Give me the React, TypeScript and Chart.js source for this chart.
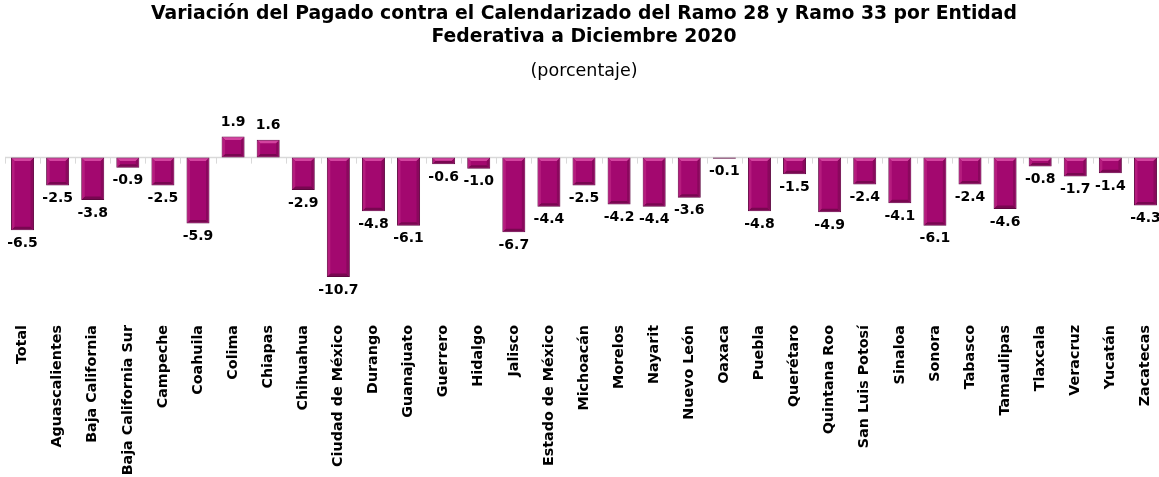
import React, { useEffect, useRef } from "react";
import { Chart, registerables } from "chart.js";

Chart.register(...registerables);

const categories = [
  "Total", "Aguascalientes", "Baja California", "Baja California Sur", "Campeche", "Coahuila",
  "Colima", "Chiapas", "Chihuahua", "Ciudad de México", "Durango", "Guanajuato", "Guerrero",
  "Hidalgo", "Jalisco", "Estado de México", "Michoacán", "Morelos", "Nayarit", "Nuevo León",
  "Oaxaca", "Puebla", "Querétaro", "Quintana Roo", "San Luis Potosí", "Sinaloa", "Sonora",
  "Tabasco", "Tamaulipas", "Tlaxcala", "Veracruz", "Yucatán", "Zacatecas",
];

const values = [
  -6.5, -2.5, -3.8, -0.9, -2.5, -5.9, 1.9, 1.6, -2.9, -10.7, -4.8, -6.1, -0.6, -1.0, -6.7, -4.4,
  -2.5, -4.2, -4.4, -3.6, -0.1, -4.8, -1.5, -4.9, -2.4, -4.1, -6.1, -2.4, -4.6, -0.8, -1.7, -1.4, -4.3,
];

const titleLines = [
  "Variación del Pagado contra el Calendarizado del Ramo 28 y Ramo 33 por Entidad",
  "Federativa a Diciembre 2020",
];
const subtitleText = "(porcentaje)";

const FONT = "'DejaVu Sans', sans-serif";

const axisPlugin = {
  id: "zeroAxis",
  beforeDatasetsDraw(chart: any) {
    const { ctx, chartArea, scales } = chart;
    const xs = scales.x;
    const ys = scales.y;
    const y0 = ys.getPixelForValue(0);
    const cw = xs.getPixelForValue(1) - xs.getPixelForValue(0);
    const start = xs.getPixelForValue(0) - cw / 2;
    ctx.save();
    ctx.strokeStyle = "#D9D9D9";
    ctx.lineWidth = 1.5;
    ctx.beginPath();
    ctx.moveTo(chartArea.left, y0);
    ctx.lineTo(chartArea.right, y0);
    ctx.stroke();
    ctx.lineWidth = 1;
    for (let i = 0; i <= categories.length; i++) {
      const x = Math.round(start + i * cw) + 0.5;
      ctx.beginPath();
      ctx.moveTo(x, y0);
      ctx.lineTo(x, y0 + 6);
      ctx.stroke();
    }
    ctx.restore();
  },
};

const bevelPlugin = {
  id: "bevel",
  afterDatasetsDraw(chart: any) {
    const { ctx } = chart;
    const meta = chart.getDatasetMeta(0);
    ctx.save();
    meta.data.forEach((bar: any) => {
      const p = bar.getProps(["x", "y", "base", "width"], true);
      const left = p.x - p.width / 2;
      const right = p.x + p.width / 2;
      const top = Math.min(p.y, p.base);
      const bottom = Math.max(p.y, p.base);
      const h = bottom - top;
      if (h < 2) return;
      const s = Math.min(2.5, h / 3);
      ctx.fillStyle = "#D3439F";
      ctx.beginPath();
      ctx.moveTo(left + 1, top + 1);
      ctx.lineTo(right - 1, top + 1);
      ctx.lineTo(right - 1 - s, top + 1 + s);
      ctx.lineTo(left + 1 + s, top + 1 + s);
      ctx.closePath();
      ctx.fill();
      ctx.fillStyle = "#780750";
      ctx.beginPath();
      ctx.moveTo(left + 1, bottom - 1);
      ctx.lineTo(right - 1, bottom - 1);
      ctx.lineTo(right - 1 - s, bottom - 1 - s);
      ctx.lineTo(left + 1 + s, bottom - 1 - s);
      ctx.closePath();
      ctx.fill();
      ctx.fillStyle = "#8A085D";
      ctx.beginPath();
      ctx.moveTo(right - 1, top + 1);
      ctx.lineTo(right - 1, bottom - 1);
      ctx.lineTo(right - 1 - s, bottom - 1 - s);
      ctx.lineTo(right - 1 - s, top + 1 + s);
      ctx.closePath();
      ctx.fill();
      ctx.fillStyle = "#B51C7E";
      ctx.beginPath();
      ctx.moveTo(left + 1, top + 1);
      ctx.lineTo(left + 1, bottom - 1);
      ctx.lineTo(left + 1 + s, bottom - 1 - s);
      ctx.lineTo(left + 1 + s, top + 1 + s);
      ctx.closePath();
      ctx.fill();
    });
    ctx.restore();
  },
};

const labelPlugin = {
  id: "valueLabels",
  afterDatasetsDraw(chart: any) {
    const { ctx } = chart;
    const meta = chart.getDatasetMeta(0);
    ctx.save();
    ctx.font = `bold 14px ${FONT}`;
    ctx.fillStyle = "#000000";
    ctx.textAlign = "center";
    ctx.textBaseline = "middle";
    meta.data.forEach((bar: any, i: number) => {
      const v = values[i];
      const p = bar.getProps(["x", "y"], true);
      const y = v < 0 ? p.y + 13 : p.y - 14;
      ctx.fillText(v.toFixed(1), p.x, y);
    });
    ctx.restore();
  },
};

export default function App() {
  const canvasRef = useRef<HTMLCanvasElement | null>(null);

  useEffect(() => {
    if (!canvasRef.current) return;
    const chart = new Chart(canvasRef.current, {
      type: "bar",
      data: {
        labels: categories,
        datasets: [
          {
            data: values,
            backgroundColor: "#A3086F",
            borderColor: "#5E0640",
            borderWidth: 1,
            borderSkipped: false,
            barPercentage: 0.656,
            categoryPercentage: 1,
          },
        ],
      },
      options: {
        animation: false,
        responsive: true,
        maintainAspectRatio: false,
        layout: { padding: { left: 5, right: 0, top: 0, bottom: 0 } },
        plugins: {
          legend: { display: false },
          tooltip: { enabled: false },
          title: {
            display: true,
            text: titleLines,
            color: "#000000",
            font: { family: FONT, size: 18.8, weight: "bold", lineHeight: 1.2 },
            padding: { top: 3, bottom: 0 },
          },
          subtitle: {
            display: true,
            text: subtitleText,
            color: "#000000",
            font: { family: FONT, size: 17.5, weight: "normal", lineHeight: 1.2 },
            padding: { top: 13, bottom: 42 },
          },
        },
        scales: {
          x: {
            grid: { display: false, drawTicks: false },
            border: { display: false },
            ticks: {
              autoSkip: false,
              minRotation: 90,
              maxRotation: 90,
              padding: 0,
              color: "#000000",
              font: { family: FONT, size: 14.3, weight: "bold" },
            },
            afterFit(scale: any) {
              scale.height = 152;
            },
          },
          y: {
            display: false,
            min: -15,
            max: 3,
          },
        },
      },
      plugins: [axisPlugin, bevelPlugin, labelPlugin],
    });
    return () => chart.destroy();
  }, []);

  return (
    <div style={{ position: "absolute", left: 0, top: 0, width: 1159, height: 477, overflow: "hidden", background: "#ffffff" }}>
      <div style={{ position: "relative", width: 1163, height: 477 }}>
        <canvas ref={canvasRef} />
      </div>
    </div>
  );
}
